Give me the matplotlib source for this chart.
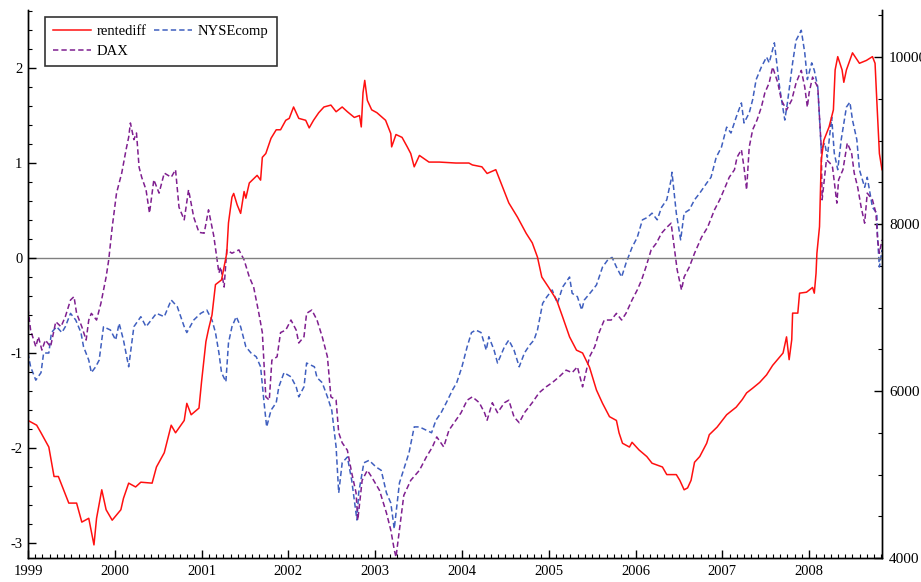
import matplotlib
matplotlib.use("Agg")
import matplotlib.pyplot as plt
from matplotlib.ticker import MultipleLocator
import numpy as np

plt.rcParams['font.family'] = ['Liberation Serif', 'DejaVu Serif']

# ---- data (decimal years) ----
rente_t = [1999.00, 1999.10, 1999.15, 1999.24, 1999.30, 1999.35, 1999.41, 1999.47, 1999.56, 1999.62,
           1999.70, 1999.76, 1999.79, 1999.85, 1999.90, 1999.97, 2000.07, 2000.10, 2000.16, 2000.24,
           2000.30, 2000.43, 2000.48, 2000.57, 2000.65, 2000.70, 2000.80, 2000.83, 2000.88, 2000.97,
           2001.00, 2001.05, 2001.08, 2001.12, 2001.16, 2001.23, 2001.29, 2001.31, 2001.35, 2001.37,
           2001.41, 2001.45, 2001.49, 2001.51, 2001.55, 2001.64, 2001.68, 2001.70, 2001.74, 2001.80,
           2001.86, 2001.91, 2001.97, 2002.01, 2002.06, 2002.12, 2002.20, 2002.24, 2002.29, 2002.35,
           2002.41, 2002.49, 2002.55, 2002.62, 2002.68, 2002.76, 2002.82, 2002.84, 2002.86, 2002.88,
           2002.91, 2002.96, 2003.02, 2003.12, 2003.18, 2003.19, 2003.24, 2003.31, 2003.37, 2003.41,
           2003.45, 2003.51, 2003.62, 2003.74, 2003.93, 2004.08, 2004.12, 2004.23, 2004.29, 2004.39,
           2004.45, 2004.54, 2004.64, 2004.74, 2004.81, 2004.87, 2004.92, 2005.00, 2005.09, 2005.16,
           2005.24, 2005.32, 2005.39, 2005.47, 2005.55, 2005.62, 2005.70, 2005.78, 2005.81, 2005.85,
           2005.93, 2005.96, 2006.04, 2006.13, 2006.19, 2006.31, 2006.36, 2006.47, 2006.51, 2006.56,
           2006.60, 2006.64, 2006.68, 2006.74, 2006.82, 2006.85, 2006.94, 2007.05, 2007.16, 2007.23,
           2007.28, 2007.35, 2007.43, 2007.51, 2007.58, 2007.70, 2007.74, 2007.77, 2007.80, 2007.81,
           2007.87, 2007.89, 2007.97, 2008.04, 2008.06, 2008.08, 2008.09, 2008.12, 2008.14, 2008.17,
           2008.23, 2008.28, 2008.30, 2008.33, 2008.38, 2008.40, 2008.43, 2008.50, 2008.58, 2008.66,
           2008.73, 2008.76, 2008.78, 2008.81, 2008.84]
rentediff = [-1.71, -1.76, -1.84, -1.99, -2.30, -2.30, -2.44, -2.58, -2.58, -2.78,
             -2.74, -3.02, -2.74, -2.44, -2.65, -2.76, -2.65, -2.53, -2.37, -2.41,
             -2.36, -2.37, -2.20, -2.05, -1.76, -1.84, -1.71, -1.53, -1.65, -1.58,
             -1.30, -0.88, -0.75, -0.60, -0.28, -0.23, 0.05, 0.37, 0.64, 0.68,
             0.56, 0.47, 0.70, 0.63, 0.79, 0.87, 0.82, 1.06, 1.10, 1.26,
             1.35, 1.35, 1.45, 1.47, 1.59, 1.47, 1.45, 1.37, 1.45, 1.53,
             1.59, 1.61, 1.54, 1.59, 1.54, 1.48, 1.50, 1.38, 1.74, 1.87,
             1.66, 1.56, 1.53, 1.45, 1.31, 1.17, 1.30, 1.27, 1.17, 1.10,
             0.96, 1.08, 1.01, 1.01, 1.00, 1.00, 0.98, 0.96, 0.89, 0.93,
             0.79, 0.58, 0.43, 0.26, 0.16, 0.01, -0.20, -0.31, -0.44, -0.62,
             -0.83, -0.97, -1.00, -1.15, -1.39, -1.53, -1.67, -1.71, -1.84, -1.95,
             -1.99, -1.94, -2.02, -2.09, -2.16, -2.20, -2.28, -2.28, -2.34, -2.44,
             -2.42, -2.34, -2.15, -2.09, -1.95, -1.86, -1.78, -1.65, -1.57, -1.49,
             -1.42, -1.37, -1.31, -1.23, -1.13, -1.00, -0.83, -1.07, -0.86, -0.58,
             -0.58, -0.37, -0.36, -0.31, -0.37, -0.16, 0.05, 0.33, 1.03, 1.24,
             1.38, 1.56, 1.98, 2.12, 1.98, 1.85, 1.98, 2.16, 2.05, 2.08,
             2.12, 2.05, 1.66, 1.10, 0.93]

nyse_t = [1999.00, 1999.03, 1999.09, 1999.15, 1999.18, 1999.24, 1999.27, 1999.33, 1999.39, 1999.43,
          1999.49, 1999.55, 1999.61, 1999.64, 1999.70, 1999.73, 1999.78, 1999.82, 1999.87, 1999.95,
          2000.01, 2000.05, 2000.10, 2000.16, 2000.22, 2000.30, 2000.36, 2000.42, 2000.48, 2000.57,
          2000.65, 2000.72, 2000.80, 2000.83, 2000.91, 2000.99, 2001.06, 2001.12, 2001.16, 2001.20,
          2001.23, 2001.28, 2001.31, 2001.35, 2001.40, 2001.45, 2001.51, 2001.57, 2001.63, 2001.68,
          2001.72, 2001.75, 2001.80, 2001.86, 2001.89, 2001.95, 2002.03, 2002.09, 2002.12, 2002.18,
          2002.21, 2002.30, 2002.33, 2002.39, 2002.45, 2002.50, 2002.55, 2002.58, 2002.62, 2002.68,
          2002.73, 2002.79, 2002.81, 2002.87, 2002.93, 2003.01, 2003.07, 2003.13, 2003.18, 2003.22,
          2003.28, 2003.39, 2003.45, 2003.51, 2003.59, 2003.65, 2003.70, 2003.76, 2003.82, 2003.89,
          2003.94, 2004.00, 2004.06, 2004.11, 2004.16, 2004.22, 2004.28, 2004.31, 2004.37, 2004.41,
          2004.49, 2004.54, 2004.60, 2004.66, 2004.72, 2004.78, 2004.83, 2004.87, 2004.93, 2004.98,
          2005.04, 2005.10, 2005.16, 2005.24, 2005.27, 2005.33, 2005.38, 2005.41, 2005.49, 2005.55,
          2005.62, 2005.68, 2005.73, 2005.78, 2005.84, 2005.89, 2005.96, 2006.02, 2006.08, 2006.14,
          2006.19, 2006.25, 2006.30, 2006.36, 2006.41, 2006.42, 2006.45, 2006.47, 2006.52, 2006.56,
          2006.62, 2006.68, 2006.74, 2006.82, 2006.87, 2006.93, 2006.99, 2007.05, 2007.10, 2007.16,
          2007.22, 2007.25, 2007.31, 2007.35, 2007.39, 2007.45, 2007.51, 2007.54, 2007.60, 2007.66,
          2007.72, 2007.75, 2007.81, 2007.85, 2007.91, 2007.95, 2007.98, 2008.03, 2008.06, 2008.10,
          2008.14, 2008.18, 2008.21, 2008.26, 2008.29, 2008.33, 2008.37, 2008.43, 2008.47, 2008.50,
          2008.55, 2008.58, 2008.64, 2008.67, 2008.73, 2008.78, 2008.79, 2008.81, 2008.84]
nysecomp = [6455, 6290, 6130, 6220, 6455, 6455, 6700, 6770, 6700, 6770,
            6930, 6850, 6700, 6530, 6370, 6220, 6290, 6370, 6770, 6730,
            6610, 6810, 6610, 6290, 6770, 6890, 6770, 6850, 6930, 6890,
            7090, 7010, 6770, 6700, 6850, 6930, 6970, 6850, 6700, 6455,
            6220, 6110, 6575, 6770, 6890, 6770, 6530, 6455, 6410, 6290,
            5860, 5570, 5770, 5860, 6050, 6220, 6170, 6050, 5930, 6050,
            6335, 6290, 6160, 6100, 5930, 5770, 5330, 4780, 5140, 5210,
            4930, 4455, 4780, 5140, 5170, 5090, 5050, 4780, 4660, 4350,
            4900, 5260, 5570, 5570, 5530, 5500, 5650, 5740, 5860, 6010,
            6100, 6290, 6530, 6700, 6730, 6700, 6490, 6650, 6490, 6335,
            6530, 6610, 6490, 6290, 6455, 6550, 6610, 6730, 7050, 7130,
            7210, 7050, 7245, 7365, 7170, 7130, 6970, 7090, 7190, 7270,
            7485, 7570, 7600, 7485, 7365, 7530, 7720, 7840, 8050, 8080,
            8130, 8050, 8200, 8290, 8530, 8620, 8320, 8130, 7810, 8130,
            8170, 8290, 8370, 8490, 8560, 8800, 8920, 9160, 9090, 9280,
            9450, 9210, 9330, 9490, 9730, 9880, 10000, 9930, 10170, 9640,
            9245, 9450, 9930, 10200, 10320, 10050, 9730, 9930, 9840, 9640,
            8890, 8970, 8800, 9280, 8850, 8650, 9010, 9400, 9460, 9245,
            9010, 8650, 8440, 8560, 8200, 8130, 7810, 7485, 7690]

dax_t = [1999.00, 1999.03, 1999.09, 1999.12, 1999.16, 1999.20, 1999.26, 1999.32, 1999.38, 1999.43,
         1999.49, 1999.53, 1999.56, 1999.62, 1999.67, 1999.70, 1999.73, 1999.79, 1999.84, 1999.90,
         1999.93, 1999.97, 2000.02, 2000.08, 2000.13, 2000.16, 2000.18, 2000.22, 2000.25, 2000.28,
         2000.31, 2000.36, 2000.40, 2000.45, 2000.51, 2000.57, 2000.65, 2000.70, 2000.74, 2000.80,
         2000.85, 2000.91, 2000.97, 2001.03, 2001.08, 2001.14, 2001.20, 2001.22, 2001.26, 2001.29,
         2001.35, 2001.43, 2001.49, 2001.55, 2001.60, 2001.66, 2001.70, 2001.74, 2001.78, 2001.81,
         2001.87, 2001.91, 2001.97, 2002.03, 2002.09, 2002.12, 2002.18, 2002.21, 2002.27, 2002.33,
         2002.39, 2002.45, 2002.49, 2002.55, 2002.58, 2002.62, 2002.68, 2002.73, 2002.78, 2002.80,
         2002.85, 2002.91, 2002.96, 2003.05, 2003.13, 2003.18, 2003.22, 2003.24, 2003.33, 2003.41,
         2003.51, 2003.59, 2003.66, 2003.71, 2003.79, 2003.85, 2003.93, 2003.99, 2004.06, 2004.12,
         2004.20, 2004.26, 2004.29, 2004.35, 2004.41, 2004.49, 2004.54, 2004.60, 2004.66, 2004.72,
         2004.81, 2004.89, 2004.97, 2005.04, 2005.12, 2005.20, 2005.27, 2005.33, 2005.39, 2005.47,
         2005.53, 2005.58, 2005.64, 2005.72, 2005.78, 2005.84, 2005.89, 2005.96, 2006.02, 2006.07,
         2006.12, 2006.18, 2006.24, 2006.30, 2006.36, 2006.41, 2006.45, 2006.48, 2006.53, 2006.56,
         2006.62, 2006.68, 2006.76, 2006.83, 2006.91, 2006.97, 2007.02, 2007.08, 2007.14, 2007.17,
         2007.22, 2007.25, 2007.28, 2007.31, 2007.35, 2007.40, 2007.45, 2007.49, 2007.54, 2007.58,
         2007.64, 2007.68, 2007.74, 2007.80, 2007.85, 2007.91, 2007.95, 2007.98, 2008.00, 2008.04,
         2008.10, 2008.14, 2008.15, 2008.20, 2008.24, 2008.27, 2008.32, 2008.34, 2008.39, 2008.44,
         2008.49, 2008.52, 2008.56, 2008.60, 2008.64, 2008.67, 2008.73, 2008.77, 2008.79, 2008.81,
         2008.84]
dax = [6990, 6730, 6530, 6650, 6490, 6610, 6530, 6830, 6770, 6890,
       7090, 7130, 6930, 6770, 6610, 6850, 6930, 6850, 7050, 7365,
       7570, 7960, 8370, 8610, 8890, 9040, 9210, 9010, 9090, 8680,
       8560, 8410, 8130, 8530, 8370, 8610, 8560, 8650, 8200, 8050,
       8410, 8080, 7900, 7890, 8170, 7860, 7413, 7485, 7245, 7690,
       7650, 7690, 7570, 7365, 7245, 6930, 6700, 5930, 5890, 6370,
       6410, 6700, 6730, 6850, 6730, 6575, 6650, 6930, 6970, 6850,
       6650, 6410, 5930, 5890, 5500, 5380, 5290, 5020, 4780, 4455,
       4930, 5050, 4970, 4810, 4540, 4335, 4100, 4010, 4750, 4930,
       5050, 5210, 5330, 5450, 5330, 5530, 5650, 5740, 5890, 5930,
       5860, 5740, 5650, 5860, 5740, 5860, 5890, 5690, 5620, 5740,
       5860, 5980, 6050, 6100, 6170, 6250, 6220, 6290, 6050, 6410,
       6530, 6700, 6850, 6850, 6930, 6850, 6930, 7090, 7210, 7330,
       7485, 7690, 7770, 7890, 7960, 8010, 7690, 7450, 7210, 7365,
       7485, 7650, 7840, 7960, 8170, 8290, 8410, 8560, 8650, 8800,
       8890, 8680, 8410, 8920, 9130, 9245, 9400, 9570, 9690, 9880,
       9690, 9485, 9365, 9485, 9690, 9840, 9640, 9400, 9570, 9760,
       9640, 8920, 8290, 8770, 8730, 8680, 8250, 8530, 8650, 8970,
       8850, 8610, 8440, 8200, 8010, 8370, 8290, 8130, 7810, 7650,
       7810]

left_ticks = [-3, -2, -1, 0, 1, 2]
right_ticks = [4000, 6000, 8000, 10000]
year_ticks = list(range(1999, 2009))

# ---- figure ----
fig = plt.figure(figsize=(9.21, 5.82), dpi=100)
ax = fig.add_axes([28/921, 1 - 558/582, (882 - 28)/921, (558 - 10)/582])
ax2 = ax.twinx()

ax.axhline(0, color='#808080', lw=1.0, zorder=1)

dash = (0, (3.5, 2.0))
l2, = ax2.plot(nyse_t, nysecomp, color='#3f5fbf', lw=1.1, ls=dash, label='NYSEcomp')
l3, = ax2.plot(dax_t, dax, color='#7f1f8f', lw=1.1, ls=dash, label='DAX')
l1, = ax.plot(rente_t, rentediff, color='#ff1010', lw=1.1, label='rentediff')
ax.set_zorder(ax2.get_zorder() + 1)
ax.patch.set_visible(False)

ax.set_xlim(1999.0, 2008.84)
ax.set_ylim(-3.158, 2.611)
ax2.set_ylim(4000, 10563)

for a in (ax, ax2):
    a.spines['top'].set_visible(False)
    for s in a.spines.values():
        s.set_linewidth(1.0)

ax.set_yticks(left_ticks)
ax.set_yticklabels([str(v) for v in left_ticks])
ax.yaxis.set_minor_locator(MultipleLocator(0.2))
ax.set_xticks(year_ticks)
ax.set_xticklabels([str(y) for y in year_ticks])
ax.xaxis.set_minor_locator(MultipleLocator(1/12))
ax2.set_yticks(right_ticks)
ax2.set_yticklabels([str(v) for v in right_ticks])
ax2.yaxis.set_minor_locator(MultipleLocator(500))

ax.tick_params(axis='both', which='major', direction='in', length=6, width=1.0, labelsize=10.5)
ax.tick_params(axis='both', which='minor', direction='in', length=3, width=0.8)
ax.tick_params(axis='y', pad=4)
ax.tick_params(axis='x', pad=5)
ax2.tick_params(axis='y', which='major', direction='in', length=6, width=1.0, labelsize=11, pad=5)
ax2.tick_params(axis='y', which='minor', direction='in', length=3, width=0.8)

leg = ax.legend([l1, l3, l2], ['rentediff', 'DAX', 'NYSEcomp'], ncol=2,
                loc='upper left', bbox_to_anchor=(0.02, 0.987),
                fontsize=10.5, frameon=True, fancybox=False, borderpad=0.55,
                handlelength=2.6, columnspacing=0.5, labelspacing=0.45,
                handletextpad=0.4, borderaxespad=0)
leg.get_frame().set_edgecolor('black')
leg.get_frame().set_linewidth(1.2)

fig.savefig('out.png', dpi=100)
